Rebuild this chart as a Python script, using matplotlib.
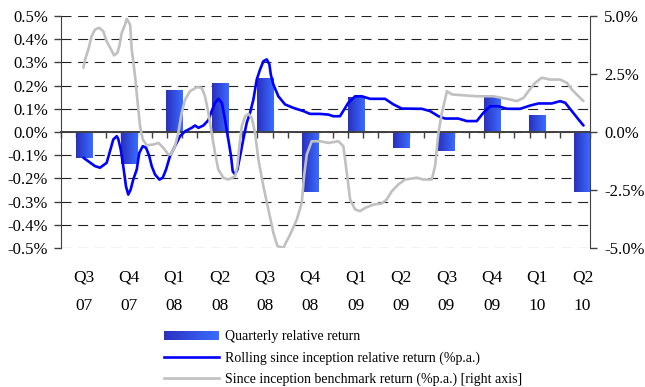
import numpy as np
import matplotlib
matplotlib.use("Agg")
import matplotlib.pyplot as plt
from matplotlib.patches import Rectangle
from matplotlib.lines import Line2D
from matplotlib.legend_handler import HandlerBase
from matplotlib.colors import LinearSegmentedColormap

plt.rcParams['font.family'] = ['Liberation Serif', 'DejaVu Serif']

# ---- data -------------------------------------------------------------
quarters = ['Q3', 'Q4', 'Q1', 'Q2', 'Q3', 'Q4', 'Q1', 'Q2', 'Q3', 'Q4', 'Q1', 'Q2']
years = ['07', '07', '08', '08', '08', '08', '09', '09', '09', '09', '10', '10']
quarterly_rel = [-0.11, -0.14, 0.18, 0.21, 0.23, -0.26, 0.15, -0.07, -0.08, 0.15, 0.07, -0.26]

# time in months since 1 Jul 2007
rolling_t = [1.48, 2.25, 2.58, 3.02, 3.24, 3.46, 3.69, 3.79, 3.95, 4.12, 4.30, 4.45, 4.61, 4.78,
             5.01, 5.18, 5.41, 5.63, 5.84, 6.00, 6.22, 6.51, 6.73, 6.95, 7.21, 7.54, 7.88, 8.21,
             8.65, 8.87, 9.09, 9.42, 9.75, 9.97, 10.19, 10.41, 10.64, 10.85, 11.07, 11.25, 11.36,
             11.52, 11.67, 11.85, 12.06, 12.29, 12.51, 12.73, 12.95, 13.17, 13.39, 13.61, 13.79,
             13.88, 14.05, 14.38, 14.82, 15.37, 16.04, 16.48, 17.14, 17.69, 18.02, 18.46, 19.01,
             19.46, 19.90, 20.45, 21.44, 21.99, 22.55, 23.87, 24.42, 24.97, 25.41, 26.29, 26.85,
             27.51, 27.95, 28.39, 28.94, 29.50, 30.38, 31.04, 31.59, 32.47, 33.02, 33.36, 33.80,
             34.24, 34.57]
rolling_rel = [-0.111, -0.147, -0.154, -0.133, -0.083, -0.032, -0.018, -0.030, -0.075, -0.147,
               -0.234, -0.270, -0.248, -0.205, -0.162, -0.090, -0.061, -0.068, -0.104, -0.147,
               -0.183, -0.205, -0.197, -0.162, -0.104, -0.061, -0.018, 0.003, 0.018, 0.028,
               0.018, 0.028, 0.051, 0.090, 0.126, 0.143, 0.126, 0.054, -0.032, -0.104, -0.169,
               -0.183, -0.162, -0.104, -0.032, 0.040, 0.083, 0.140, 0.226, 0.269, 0.305, 0.313,
               0.291, 0.248, 0.205, 0.154, 0.119, 0.104, 0.090, 0.078, 0.078, 0.075, 0.068,
               0.068, 0.126, 0.154, 0.154, 0.143, 0.143, 0.119, 0.101, 0.100, 0.090, 0.068,
               0.058, 0.058, 0.047, 0.047, 0.083, 0.111, 0.111, 0.100, 0.100, 0.114, 0.123,
               0.123, 0.133, 0.126, 0.090, 0.054, 0.028]

bench_t = [1.48, 1.59, 1.81, 2.03, 2.25, 2.53, 2.80, 3.02, 3.31, 3.51, 3.73, 3.86, 4.02, 4.24,
           4.35, 4.57, 4.68, 4.90, 5.05, 5.23, 5.41, 5.67, 6.11, 6.44, 6.77, 7.10, 7.26, 7.54,
           7.76, 7.99, 8.21, 8.54, 8.98, 9.31, 9.53, 9.75, 9.97, 10.19, 10.41, 10.74, 11.07,
           11.52, 11.67, 11.80, 11.96, 12.18, 12.40, 12.62, 12.84, 13.06, 13.39, 13.72, 14.05,
           14.32, 14.71, 15.16, 15.60, 15.93, 16.08, 16.26, 16.59, 17.14, 17.69, 18.35, 18.68,
           18.91, 19.13, 19.46, 19.79, 20.12, 20.67, 21.22, 21.55, 21.89, 22.32, 22.77, 23.54,
           23.98, 24.53, 24.75, 24.97, 25.20, 25.41, 25.53, 25.86, 26.85, 27.51, 28.61, 29.17,
           29.72, 30.16, 30.60, 30.93, 31.37, 31.81, 32.36, 33.02, 33.47, 33.80, 34.24, 34.57]
bench_ret = [2.77, 3.12, 3.56, 4.13, 4.42, 4.49, 4.34, 3.91, 3.56, 3.30, 3.41, 3.70, 4.28, 4.63,
             4.88, 4.63, 3.56, 2.41, 1.40, 0.25, -0.32, -0.57, -0.54, -0.47, -0.68, -0.97, -0.97,
             -0.61, -0.04, 0.83, 1.40, 1.76, 1.93, 1.91, 1.54, 0.83, -0.04, -0.90, -1.62, -1.97,
             -2.05, -1.91, -1.47, -0.61, 0.25, 0.68, 0.78, 0.61, -0.04, -1.19, -2.34, -3.34,
             -4.34, -4.92, -4.99, -4.42, -3.77, -3.05, -1.91, -0.97, -0.40, -0.40, -0.47, -0.40,
             -0.61, -1.76, -2.91, -3.34, -3.41, -3.27, -3.13, -3.08, -2.91, -2.55, -2.26, -2.05,
             -1.97, -2.05, -2.05, -1.47, -0.04, 0.83, 1.40, 1.76, 1.62, 1.57, 1.54, 1.54, 1.47,
             1.40, 1.33, 1.47, 1.76, 2.12, 2.34, 2.26, 2.26, 2.12, 1.83, 1.54, 1.33]

left_ticks = [-0.5, -0.4, -0.3, -0.2, -0.1, 0.0, 0.1, 0.2, 0.3, 0.4, 0.5]
left_labels = ['-0.5%', '-0.4%', '-0.3%', '-0.2%', '-0.1%', '0.0%', '0.1%', '0.2%', '0.3%',
               '0.4%', '0.5%']
right_ticks = [-5.0, -2.5, 0.0, 2.5, 5.0]
right_labels = ['-5.0%', '-2.5%', '0.0%', '2.5%', '5.0%']

legend_labels = ['Quarterly relative return',
                 'Rolling since inception relative return (%p.a.)',
                 'Since inception benchmark return (%p.a.) [right axis]']

# ---- styles -----------------------------------------------------------
BLUE = '#0000ff'
GREY = '#c0c0c0'
AXIS = '#404040'
bar_cmap = LinearSegmentedColormap.from_list('barfill', ['#2a30bf', '#3a6cff'])

W, H = 645, 387
fig = plt.figure(figsize=(W / 100, H / 100), dpi=100)
ax = fig.add_axes([61 / W, 1 - 248 / H, 529 / W, 232 / H])
ax2 = ax.twinx()

n_months = 36
xpos = 1.5 + 3 * np.arange(len(quarters))

# bars with a horizontal colour gradient
bars = ax.bar(xpos, quarterly_rel, width=1.06, color='none', edgecolor='none', zorder=2)
grad = np.linspace(0, 1, 64).reshape(1, -1)
for b in bars:
    x0, y0 = b.get_x(), b.get_y()
    x1, y1 = x0 + b.get_width(), y0 + b.get_height()
    ax.imshow(grad, extent=[x0, x1, min(y0, y1), max(y0, y1)], aspect='auto',
              cmap=bar_cmap, interpolation='bilinear', zorder=2)

ax.plot(rolling_t, rolling_rel, color=BLUE, lw=1.9, solid_joinstyle='round',
        solid_capstyle='round', zorder=4)
ax2.plot(bench_t, bench_ret, color=GREY, lw=1.9, solid_joinstyle='round',
         solid_capstyle='round', zorder=3)

ax.set_xlim(0, n_months - 1)
ax.set_ylim(-0.5, 0.5)
ax2.set_ylim(-5, 5)

# left axis
ax.set_yticks(left_ticks)
ax.set_yticklabels(left_labels, fontsize=12)
ax.tick_params(axis='y', direction='out', length=5, width=1, color=AXIS, pad=4.5)
ax.yaxis.grid(True, color='#222222', lw=0.8, ls=(0, (9, 6)))
ax.set_axisbelow(True)

# zero line carries the monthly ticks
ax.spines['bottom'].set_position(('data', 0))
ax.spines['bottom'].set_color(AXIS)
ax.spines['bottom'].set_linewidth(1.4)
ax.spines['bottom'].set_zorder(3)
ax.spines['top'].set_visible(False)
ax.spines['right'].set_visible(False)
ax.spines['left'].set_color(AXIS)
ax.set_xticks(np.arange(n_months))
ax.set_xticklabels([])
ax.tick_params(axis='x', direction='out', length=4, width=1, color=AXIS)

# right axis
ax2.set_yticks(right_ticks)
ax2.set_yticklabels(right_labels, fontsize=12)
ax2.tick_params(axis='y', direction='out', length=5, width=1, color=AXIS, pad=5)
for s in ['top', 'bottom', 'left']:
    ax2.spines[s].set_visible(False)
ax2.spines['right'].set_color(AXIS)

# quarter / year labels
tr = ax.get_xaxis_transform()
for x, q, y in zip(xpos, quarters, years):
    ax.text(x, -0.145, q, transform=tr, ha='center', va='baseline', fontsize=12.5)
    ax.text(x, -0.267, y, transform=tr, ha='center', va='baseline', fontsize=12.5)


class GradientHandler(HandlerBase):
    def create_artists(self, legend, orig_handle, xdescent, ydescent, width, height,
                       fontsize, trans):
        n = 40
        arts = []
        for i in range(n):
            r = Rectangle((-xdescent + width * i / n, -ydescent), width / n * 1.05, height,
                          facecolor=bar_cmap((i + 0.5) / n), edgecolor='none', transform=trans)
            arts.append(r)
        return arts


bar_handle = Rectangle((0, 0), 1, 1)
handles = [bar_handle,
           Line2D([], [], color=BLUE, lw=1.9),
           Line2D([], [], color=GREY, lw=1.9)]
fig.legend(handles, legend_labels, handler_map={Rectangle: GradientHandler()},
           loc='upper left', bbox_to_anchor=(164 / W, 1 - 330 / H), frameon=False,
           fontsize=10, handlelength=3.95, handleheight=0.6, handletextpad=0.43,
           labelspacing=0.58, borderpad=0, borderaxespad=0)

fig.savefig('out.png', dpi=100)
